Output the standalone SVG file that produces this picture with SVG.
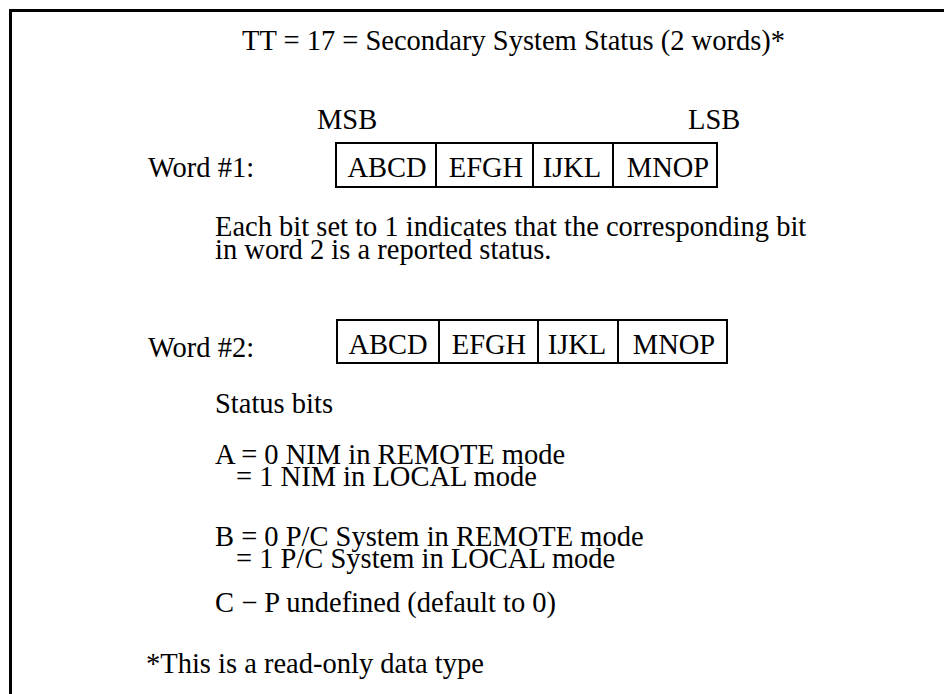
<svg xmlns="http://www.w3.org/2000/svg" width="944" height="694" viewBox="0 0 944 694">
<style>
text{font-family:"Liberation Serif","Times New Roman",serif;font-size:28.5px;fill:#000}
.cell{fill:#fff;stroke:#000;stroke-width:2}
.frame{fill:none;stroke:#000;stroke-width:3}
.c{text-anchor:middle}
</style>
<rect width="944" height="694" fill="#fff"/>
<path id="frame" class="frame" d="M10.5 694 V10.5 H944"/>
<g id="title"><text x="242" y="50">TT = 17 = Secondary System Status (2 words)*</text></g>
<g id="msb-lsb"><text x="317" y="129">MSB</text><text x="688" y="129">LSB</text></g>
<g id="word1">
<text x="148" y="177">Word #1:</text>
<rect class="cell" x="336" y="143" width="100" height="44"/>
<rect class="cell" x="436" y="143" width="97" height="44"/>
<rect class="cell" x="533" y="143" width="80" height="44"/>
<rect class="cell" x="613" y="143" width="104" height="44"/>
<text class="c" x="387" y="177">ABCD</text>
<text class="c" x="486" y="177">EFGH</text>
<text class="c" x="572" y="177">IJKL</text>
<text class="c" x="668" y="177">MNOP</text>
</g>
<g id="word1-note">
<text x="215" y="236">Each bit set to 1 indicates that the corresponding bit</text>
<text x="215" y="259">in word 2 is a reported status.</text>
</g>
<g id="word2">
<text x="148" y="357">Word #2:</text>
<rect class="cell" x="337" y="320" width="102" height="43"/>
<rect class="cell" x="439" y="320" width="99" height="43"/>
<rect class="cell" x="538" y="320" width="80" height="43"/>
<rect class="cell" x="618" y="320" width="109" height="43"/>
<text class="c" x="388" y="354">ABCD</text>
<text class="c" x="489" y="354">EFGH</text>
<text class="c" x="577" y="354">IJKL</text>
<text class="c" x="674" y="354">MNOP</text>
</g>
<g id="status">
<text x="215" y="413">Status bits</text>
<text x="215" y="464">A = 0 NIM in REMOTE mode</text>
<text x="236" y="486">= 1 NIM in LOCAL mode</text>
<text x="215" y="546">B = 0 P/C System in REMOTE mode</text>
<text x="236" y="568">= 1 P/C System in LOCAL mode</text>
<text x="215" y="612">C − P undefined (default to 0)</text>
</g>
<g id="footnote"><text x="146" y="673">*This is a read-only data type</text></g>
<g id="connectors"/>
</svg>
